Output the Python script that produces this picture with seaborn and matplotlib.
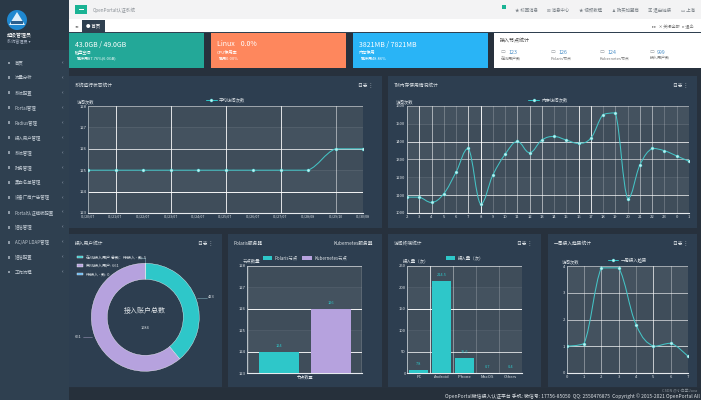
"""Dashboard screenshot rebuilt with seaborn: four line/bar panels, a donut and page chrome."""

import matplotlib
matplotlib.use("Agg")
import matplotlib.pyplot as plt
import numpy as np
import pandas as pd
import seaborn as sns
from matplotlib.patches import Circle, PathPatch, Polygon, Rectangle
from matplotlib.path import Path

W, H = 701, 400

# ---------------------------------------------------------------------------
# Data
# ---------------------------------------------------------------------------

week_dates = ["01/20/07", "01/21/07", "01/22/07", "01/23/07", "01/24/07", "01/25/07",
              "01/26/07", "01/27/07", "01/28/08", "01/29/10", "01/30/08"]
week_visits = [125, 125, 125, 125, 125, 125, 125, 125, 125, 126, 126]
week_ticks = [123, 124, 125, 126, 127, 128]

hours = ["2", "3", "4", "5", "6", "7", "8", "9", "10", "11", "12", "13", "14", "15",
         "16", "17", "18", "19", "20", "21", "22", "23", "0", "1"]
hour_visits = [1089, 1089, 1059, 1108, 1229, 1362, 1050, 1212, 1329, 1401, 1338, 1409,
               1429, 1409, 1390, 1420, 1552, 1561, 1080, 1270, 1362, 1349, 1320, 1290]
hour_ticks = [1000, 1100, 1200, 1300, 1400, 1500, 1600]

user_labels = ["在线接入用户 总数：待接入 - 数: 5", "离线接入用户: 661", "待接入 - 数: 0"]
user_counts = [423, 661, 0]

node_names = ["Polaris节点", "Kubernetes节点"]
node_counts = [124, 126]
node_ticks = [123, 124, 125, 126, 127, 128]

terminals = ["PC", "Android", "iPhone", "MacOS", "Others"]
terminal_visits = [7.8, 214.5, 35.6, 0.7, 0.4]
terminal_ticks = [0, 50, 100, 150, 200, 250]

days = ["0", "1", "2", "3", "4", "5", "6", "7"]
day_visits = [1.00, 1.10, 3.93, 3.93, 1.81, 1.00, 1.11, 0.63]
day_ticks = [0, 1, 2, 3, 4]

menu_items = ["首页", "流量分析", "系统配置", "Portal管理", "Radius管理", "接入用户管理", "系统管理",
              "财务管理", "黑白名单管理", "设备厂商广告管理", "Portal认证模板配置", "短信管理",
              "AC/AP LDAP管理", "短信配置", "工作流程"]

stat_values = ["123", "126", "124", "999"]
stat_names = ["在线用户数", "Polaris节点", "Kubernetes节点", "接入用户数"]

# ---------------------------------------------------------------------------
# Style
# ---------------------------------------------------------------------------

TEAL = "#2ec7c9"
PURPLE = "#b6a2de"
BLUE = "#5ab1ef"
PANEL = "#2d3e50"
PAGE = "#27313d"
SIDE = "#2f4050"
BAND_A = "#44525f"
BAND_B = "#3f4d5a"
TEXT = "#dfe4e8"

sns.set_theme(style="white")
plt.rcParams["font.family"] = ["Noto Sans CJK SC", "DejaVu Sans"]
plt.rcParams["axes.unicode_minus"] = False

fig = plt.figure(figsize=(W / 100, H / 100), dpi=100, facecolor=PAGE)
bg = fig.add_axes([0, 0, 1, 1])
bg.set_xlim(0, W)
bg.set_ylim(H, 0)
bg.axis("off")


def box(x0, y0, x1, y1, color):
    bg.add_patch(Rectangle((x0, y0), x1 - x0, y1 - y0, facecolor=color, edgecolor="none"))


def label(x, y, s, size=3.4, color=TEXT, ha="left", **kw):
    bg.text(x, y, s, fontsize=size, color=color, ha=ha, va="center", **kw)


def chart_axes(x0, y0, x1, y1):
    ax = fig.add_axes([x0 / W, 1 - y1 / H, (x1 - x0) / W, (y1 - y0) / H])
    ax.patch.set_alpha(0)
    return ax


def frame(ax, xpos, ypos, xalpha, yalpha):
    """Alternating bands plus grid lines whose strength differs line by line."""
    for i in range(len(ypos) - 1):
        ax.axhspan(ypos[i], ypos[i + 1], color=BAND_A if i % 2 else BAND_B, lw=0, zorder=0)
    for v, a in zip(xpos, xalpha):
        ax.axvline(v, color="white", lw=0.7, alpha=a, zorder=1)
    for v, a in zip(ypos, yalpha):
        ax.axhline(v, color="white", lw=0.7, alpha=a, zorder=1)
    ax.set_ylim(ypos[0], ypos[-1])
    ax.set_yticks(ypos)
    ax.tick_params(length=0, labelsize=3.0, labelcolor=TEXT, pad=1.2)
    ax.set_xlabel("")
    sns.despine(ax=ax, top=True, right=True)
    ax.spines["left"].set_color("#aab4bc")
    ax.spines["left"].set_linewidth(0.6)
    ax.spines["bottom"].set_color("#e6eaee")
    ax.spines["bottom"].set_linewidth(0.8)


def y_name(ax, s):
    ax.set_ylabel(s, rotation=0, fontsize=3.2, color=TEXT, ha="left", va="bottom")
    ax.yaxis.set_label_coords(-0.04, 1.02)


def smooth_line(ax, x, y, k=0.2):
    """Bezier path through the points; control points stay inside each segment's range."""
    x, y = np.asarray(x, float), np.asarray(y, float)
    verts = [(x[0], y[0])]
    codes = [Path.MOVETO]
    for i in range(len(x) - 1):
        a = max(i - 1, 0)
        b = min(i + 2, len(x) - 1)
        lo, hi = min(y[i], y[i + 1]), max(y[i], y[i + 1])
        verts += [(x[i] + (x[i + 1] - x[a]) * k, np.clip(y[i] + (y[i + 1] - y[a]) * k, lo, hi)),
                  (x[i + 1] - (x[b] - x[i]) * k, np.clip(y[i + 1] - (y[b] - y[i]) * k, lo, hi)),
                  (x[i + 1], y[i + 1])]
        codes += [Path.CURVE4] * 3
    ax.add_patch(PathPatch(Path(verts, codes), facecolor="none", edgecolor="#45c4c6",
                           lw=0.75, zorder=3))


def line_panel(box_px, names, values, ticks, xalpha, yalpha, legend, yname, size=3.0):
    ax = chart_axes(*box_px)
    pos = np.arange(len(names))
    frame(ax, pos, ticks, xalpha, yalpha)
    smooth_line(ax, pos, values)
    sns.lineplot(x=pos, y=values, ax=ax, color=TEAL, lw=0, marker="o", markersize=2.2,
                 markerfacecolor="#c4f0f0", markeredgecolor=TEAL, markeredgewidth=0.3,
                 label=legend, zorder=4)
    ax.set_xlim(0, len(names) - 1)
    ax.set_xticks(pos, names)
    ax.tick_params(axis="x", labelsize=size)
    leg = ax.legend(loc="lower center", bbox_to_anchor=(0.5, 1.015), frameon=False, fontsize=3.2,
                    labelcolor=TEXT, handlelength=2.4, handletextpad=0.5, borderpad=0)
    leg.legend_handles[0].set_linewidth(0.7)
    y_name(ax, yname)
    return ax


# ---------------------------------------------------------------------------
# Page chrome
# ---------------------------------------------------------------------------

box(0, 0, 69, 400, SIDE)
box(0, 0, 69, 50, "#2a3947")
box(69, 0, W, 19, "#f3f3f4")
box(69, 19, W, 32, "#ffffff")
box(69, 32, W, 33, "#2f4050")
box(69, 388, W, 400, "#26303b")

bg.add_patch(Circle((17, 20), 10, facecolor="#1f88d0", edgecolor="none"))
bg.add_patch(Polygon([(9, 25), (17, 12), (25, 25)], closed=True, facecolor="#dceefa", edgecolor="none"))
box(11, 21, 23, 24, "#2a5f8e")
label(7, 36, "超级管理员", size=3.6, color="#ffffff")
label(7, 42, "系统管理员 ▾", size=3.0, color="#a7b1c2")

for i, item in enumerate(menu_items):
    y = 62.7 + 14.97 * i
    box(7.5, y - 1.2, 10, y + 1.2, "#8f9ba7")
    label(14.6, y, item, size=3.2, color="#c3ccd5")
    label(61.5, y, "‹", size=4, color="#a7b1c2")

box(75, 5, 87, 14, "#1ab394")
box(78.5, 8.7, 83.5, 10.3, "#ffffff")
label(93, 10, "OpenPortal认证系统", size=3.3, color="#8a9096")
box(502, 5, 506, 9, "#1ab394")
for x, s in zip([515, 547, 579, 612, 648, 681],
                ["★ 校园消息", "✉ 消息中心", "★ 视频教程", "♟ 购买加盟商", "▣ 退出链接", "▭ 上海"]):
    label(x, 10, s, size=3.2, color="#7b8288")

label(75, 26, "◂◂", size=3, color="#777777")
box(82, 20, 105, 32, "#2f4050")
label(93.5, 26, "● 首页", size=3.2, color="#ffffff", ha="center")
label(652, 26, "▸▸   ✕ 关闭全部   ▸ 退出", size=3, color="#777777")

# stat cards
cards = [(69, 204, "#23a898", "43.0GB / 49.0GB", "磁盘空间", "已使用87.76%(6.0GB)"),
         (211, 346, "#fe875d", "Linux    0.0%", "CPU使用率", "已用0.00%"),
         (353, 488, "#29b4f6", "3821MB / 7821MB", "内存使用", "已使用48.86%")]
for x0, x1, color, head, sub, note in cards:
    box(x0, 33, x1, 68, color)
    label(x0 + 6, 44.5, head, size=5.0, color="#ffffff")
    label(x0 + 6, 52.5, sub, size=3.0, color="#ffffff")
    label(x0 + 8, 58.7, note, size=2.9, color="#ffffff")
box(494, 33, W, 68, "#ffffff")
label(500, 40, "接入节点统计", size=3.6, color="#444444")
for x, val, name in zip([501, 551, 600, 650], stat_values, stat_names):
    label(x, 52, "▭", size=3.6, color="#8a9096")
    label(x + 7, 52, val, size=3.8, color="#4a8fc8")
    label(x, 58.5, name, size=2.9, color="#777777")

# panels
panels = [(69, 76, 382, 228, "系统运行状态统计", "日志 ⋮"),
          (388, 76, 697, 228, "TM内存使用情况统计", "日志 ⋮"),
          (69, 234, 222, 387, "接入用户统计", "日志 ⋮"),
          (228, 234, 382, 387, "Polaris服务器", "Kubernetes服务器"),
          (388, 234, 541, 387, "访问终端统计", "日志 ⋮"),
          (548, 234, 697, 387, "一周接入趋势统计", "日志 ⋮")]
for x0, y0, x1, y1, title, side in panels:
    box(x0, y0, x1, y1, PANEL)
    label(x0 + 6, y0 + 9, title, size=3.4)
    label(x1 - 9, y0 + 9, side, size=3.4, ha="right")

label(700, 396.5, "OpenPortal微信接入认证平台 手机: 微信号: 17756-85050  QQ: 2550476875  Copyright © 2015-2021 OpenPortal All",
      size=3.5, ha="right", color="#dfe4e8")
label(697, 391, "CSDN @小白学Java", size=2.8, ha="right", color="#8b949c")

# ---------------------------------------------------------------------------
# Charts
# ---------------------------------------------------------------------------

line_panel((88, 106, 363, 213), week_dates, week_visits, week_ticks,
           [0, .85, 0, .85, 0, .85, 0, .85, 0, .5, 0],
           [0, .95, 0.08, .75, .08, .5], "平均访问次数", "访问次数", size=2.5)

line_panel((407, 106, 689, 213), hours, hour_visits, hour_ticks,
           [.5, .75, .55, .25, .2, .7, .95, .2, .2, .45, .55, .55, .2, .2, .85, .85,
            .2, .3, .2, .45, .5, .2, .2, .85],
           [0, .7, .08, .55, .75, .12, .45], "内存访问次数", "访问次数")

line_panel((566.7, 266, 688, 373), days, day_visits, day_ticks,
           [.5, .35, .5, .5, .25, .7, .35, .5],
           [0, .7, .6, .6, .5], "一周接入趋势", "访问次数")

# donut
ax = chart_axes(91.3, 263.3, 199.3, 371.3)
wedges, _ = ax.pie(user_counts, colors=[TEAL, PURPLE, BLUE], startangle=90, counterclock=False,
                   radius=1, wedgeprops=dict(width=0.296, edgecolor="white", lw=0.25))
ax.set_xlim(-1, 1)
ax.set_ylim(-1, 1)
ax.text(0, 0.12, "接入账户总数", fontsize=5, color=TEXT, ha="center", va="center")
ax.text(0, -0.2, str(sum(user_counts)), fontsize=2.8, color=TEXT, ha="center", va="center")
ax.legend(wedges, user_labels, loc="upper left", bbox_to_anchor=(75 / W, 1 - 253 / H),
          bbox_transform=fig.transFigure, frameon=False, fontsize=2.9, labelcolor=TEXT,
          handlelength=1.6, handleheight=0.5, handletextpad=0.6, labelspacing=1.1, borderpad=0)
bg.plot([197, 207], [297.7, 297.7], color="#7fa9b5", lw=0.4)
bg.plot([138, 145.3, 145.3], [257.7, 257.7, 263.5], color="#7fa9b5", lw=0.4)
bg.plot([83, 92], [337.3, 337.3], color="#9a93b5", lw=0.4)
label(208, 297.5, str(user_counts[0]), size=2.9)
label(81.5, 337.3, str(user_counts[1]), size=2.9, ha="right")

# node bars
ax = chart_axes(247.3, 265.7, 362.3, 373.3)
nodes = pd.DataFrame({"kind": ["节点数量"] * 2, "name": node_names, "count": node_counts})
frame(ax, [], node_ticks, [], [0, .9, 0.05, .95, .05, .6])
sns.barplot(data=nodes, x="kind", y="count", hue="name", palette=[TEAL, PURPLE], ax=ax,
            width=0.904, gap=0.23, saturation=1, linewidth=0, zorder=3)
ax.set_xlim(-0.5, 0.5)
ax.set_ylim(node_ticks[0], node_ticks[-1])
ax.set_xlabel("")
y_name(ax, "节点数量")
ax.tick_params(length=0, labelsize=3.0, labelcolor=TEXT, pad=1.2)
ax.axvline(-0.5, color="white", lw=0.9, zorder=2)
ax.axvline(0.5, color="white", lw=0.9, zorder=2)
for c in ax.containers:
    ax.bar_label(c, fontsize=2.8, color=TEAL, padding=3)
sns.move_legend(ax, "lower center", bbox_to_anchor=(0.5, 1.03), ncol=2, title=None, frameon=False,
                fontsize=3.2, labelcolor=TEXT, handlelength=2.2, handleheight=0.9, columnspacing=1,
                handletextpad=0.5, borderpad=0)

# terminal bars
ax = chart_axes(407.3, 265.7, 522.3, 373.3)
frame(ax, np.arange(len(terminals) + 1) - 0.5, terminal_ticks,
      [.6, .75, .4, .2, .2, .7], [0, .75, .05, .95, .05, .6])
sns.barplot(x=terminals, y=terminal_visits, color=TEAL, saturation=1, ax=ax, width=0.82,
            linewidth=0, label="接入量（次）", zorder=3)
ax.set_xlim(-0.5, len(terminals) - 0.5)
ax.set_ylim(terminal_ticks[0], terminal_ticks[-1])
y_name(ax, "接入量（次）")
ax.tick_params(length=0, labelsize=3.0, labelcolor=TEXT, pad=1.2)
ax.bar_label(ax.containers[0], fontsize=2.8, color=TEAL, padding=3)
ax.legend(loc="lower center", bbox_to_anchor=(0.5, 1.03), frameon=False, fontsize=3.2,
          labelcolor=TEXT, handlelength=2.2, handleheight=0.9, handletextpad=0.5, borderpad=0)

fig.savefig("out.png", dpi=100, facecolor=fig.get_facecolor())
